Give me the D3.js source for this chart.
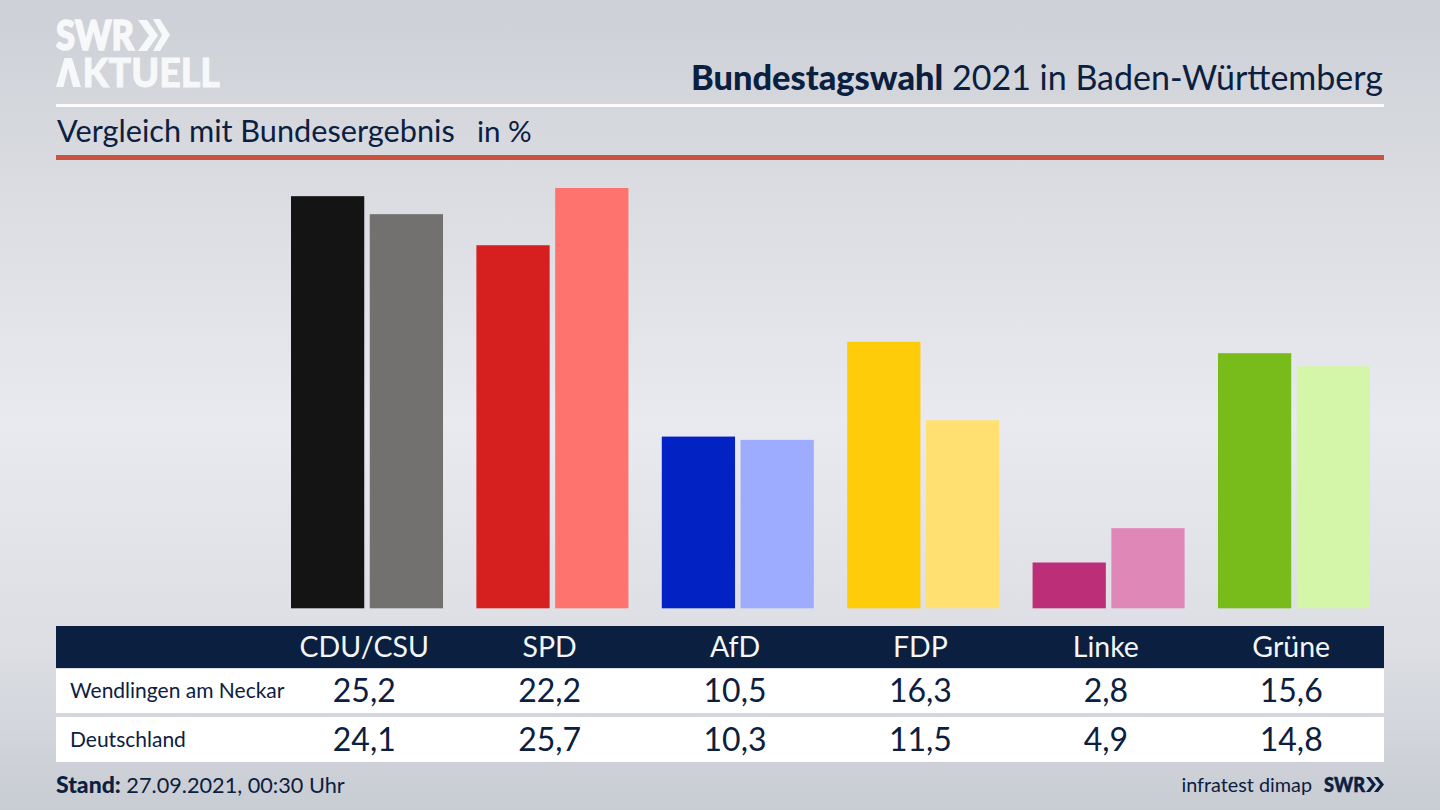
<!DOCTYPE html>
<html>
<head>
<meta charset="utf-8">
<style>
  html, body { margin: 0; padding: 0; background: #d8dade; }
  svg { display: block; }
  text { font-family: "Lato", "Noto Sans", sans-serif; fill: #0b2040; }
</style>
</head>
<body>
<svg id="chart" width="1440" height="810"></svg>
<script src="https://cdn.jsdelivr.net/npm/d3@7"></script>
<script>
const parties = ["CDU/CSU", "SPD", "AfD", "FDP", "Linke", "Grüne"];
const regions = ["Wendlingen am Neckar", "Deutschland"];
const wendlingen = [25.2, 22.2, 10.5, 16.3, 2.8, 15.6];
const deutschland = [24.1, 25.7, 10.3, 11.5, 4.9, 14.8];
const darkColors = ["#141414", "#d61f1f", "#0322c4", "#ffcc0a", "#bd2e78", "#78bc1c"];
const lightColors = ["#72716f", "#ff736e", "#9eacff", "#ffe070", "#df88b8", "#d4f6a8"];

const svg = d3.select("#chart");
const fmt = (v) => v.toFixed(1).replace(".", ",");

// background
const defs = svg.append("defs");
const grad = defs.append("linearGradient").attr("id", "bg").attr("x1", 0).attr("x2", 0).attr("y1", 0).attr("y2", 1);
[[0, "#cdd0d6"], [0.25, "#dbdde2"], [0.52, "#e9eaef"], [0.8, "#dcdee3"], [1, "#c8ccd3"]].forEach(([o, c]) => {
  grad.append("stop").attr("offset", o).attr("stop-color", c);
});
svg.append("rect").attr("width", 1440).attr("height", 810).attr("fill", "url(#bg)");

// scales
const x0 = d3.scaleBand().domain(parties).range([291, 1370]).paddingInner(0.18).paddingOuter(0);
const x1 = d3.scaleBand().domain(regions).range([0, x0.bandwidth()]).paddingInner(0.07);
const y = d3.scaleLinear().domain([0, 25.7]).range([608.3, 188]);
// table columns sit on the right edge of the first bar
const labelX = (p) => x0(p) + x1.bandwidth();

// logo
const logo = svg.append("g").attr("fill", "#f7f8f9");
logo.append("text").attr("x", 56).attr("y", 50).attr("font-size", 41).attr("font-weight", 900)
  .attr("textLength", 78).attr("lengthAdjust", "spacingAndGlyphs")
  .style("fill", "#f7f8f9").style("stroke", "#f7f8f9").style("stroke-width", 1.6).text("SWR");
const aktuell = logo.append("text").attr("x", 56).attr("y", 87).attr("font-size", 39).attr("font-weight", 900)
  .attr("textLength", 164).attr("lengthAdjust", "spacingAndGlyphs")
  .style("fill", "#f7f8f9").style("stroke", "#f7f8f9").style("stroke-width", 0.8);
// the logo's A has no crossbar, so the glyph is hidden and drawn as a shape
aktuell.append("tspan").style("fill-opacity", 0).style("stroke-opacity", 0).text("A");
aktuell.append("tspan").text("KTUELL");
logo.append("path").attr("d", "M56 87L64.5 58H72L81 87H73L68.2 68L63.5 87Z");
logo.append("path").attr("d", "M138 20h9l11 15.5-11 15.5h-9l11-15.5zM153 19h7l10 16-10 16h-7l9-16z");

// header
svg.append("rect").attr("x", 56).attr("y", 104).attr("width", 1328).attr("height", 3).attr("fill", "#fcfcfd");
svg.append("rect").attr("x", 56).attr("y", 155).attr("width", 1328).attr("height", 5).attr("fill", "#c9533f");

const title = svg.append("text").attr("x", 1383).attr("y", 90).attr("text-anchor", "end").attr("font-size", 34);
title.append("tspan").attr("font-weight", 900).attr("font-size", 34.4).text("Bundestagswahl");
title.append("tspan").text(" 2021 in Baden-Württemberg");

svg.append("text").attr("x", 57).attr("y", 142).attr("font-size", 30.7).text("Vergleich mit Bundesergebnis");
svg.append("text").attr("x", 477).attr("y", 142).attr("font-size", 29.5).text("in %");

// bars
const groups = svg.append("g").selectAll("g").data(parties).join("g")
  .attr("transform", (p) => `translate(${x0(p)},0)`);
groups.append("rect").attr("x", x1(regions[0])).attr("width", x1.bandwidth())
  .attr("y", (p, i) => y(wendlingen[i])).attr("height", (p, i) => y(0) - y(wendlingen[i]))
  .attr("fill", (p, i) => darkColors[i]);
groups.append("rect").attr("x", x1(regions[1])).attr("width", x1.bandwidth())
  .attr("y", (p, i) => y(deutschland[i])).attr("height", (p, i) => y(0) - y(deutschland[i]))
  .attr("fill", (p, i) => lightColors[i]);

// table
svg.append("rect").attr("x", 56).attr("y", 626).attr("width", 1328).attr("height", 42).attr("fill", "#0b2040");
svg.append("rect").attr("x", 56).attr("y", 669).attr("width", 1328).attr("height", 44).attr("fill", "#ffffff");
svg.append("rect").attr("x", 56).attr("y", 717).attr("width", 1328).attr("height", 45).attr("fill", "#ffffff");

svg.append("g").selectAll("text").data(parties).join("text")
  .attr("x", labelX).attr("y", 657).attr("text-anchor", "middle").attr("font-size", 28.5)
  .style("fill", "#f4f6f8").text((p) => p);

[wendlingen, deutschland].forEach((vals, r) => {
  const baseY = r === 0 ? 702 : 751;
  svg.append("text").attr("x", 70).attr("y", baseY - 4.5).attr("font-size", 21).text(regions[r]);
  svg.append("g").selectAll("text").data(parties).join("text")
    .attr("x", labelX).attr("y", baseY).attr("text-anchor", "middle").attr("font-size", 32)
    .text((p, i) => fmt(vals[i]));
});

// footer
const stand = svg.append("text").attr("x", 56).attr("y", 793).attr("font-size", 21.7);
stand.append("tspan").attr("font-weight", 900).attr("font-size", 23).text("Stand:");
stand.append("tspan").text(" 27.09.2021, 00:30 Uhr");

svg.append("text").attr("x", 1312).attr("y", 792).attr("text-anchor", "end").attr("font-size", 19.8).text("infratest dimap");
svg.append("text").attr("x", 1324).attr("y", 792).attr("font-size", 20).attr("font-weight", 900)
  .attr("textLength", 41).attr("lengthAdjust", "spacingAndGlyphs").style("stroke", "#0b2040").style("stroke-width", 0.5).text("SWR");
svg.append("path").attr("fill", "#0b2040").attr("d", "M1366 777h4l6 7.5-6 7.5h-4l6-7.5zM1374 777h4l6 7.5-6 7.5h-4l6-7.5z");
</script>
</body>
</html>
